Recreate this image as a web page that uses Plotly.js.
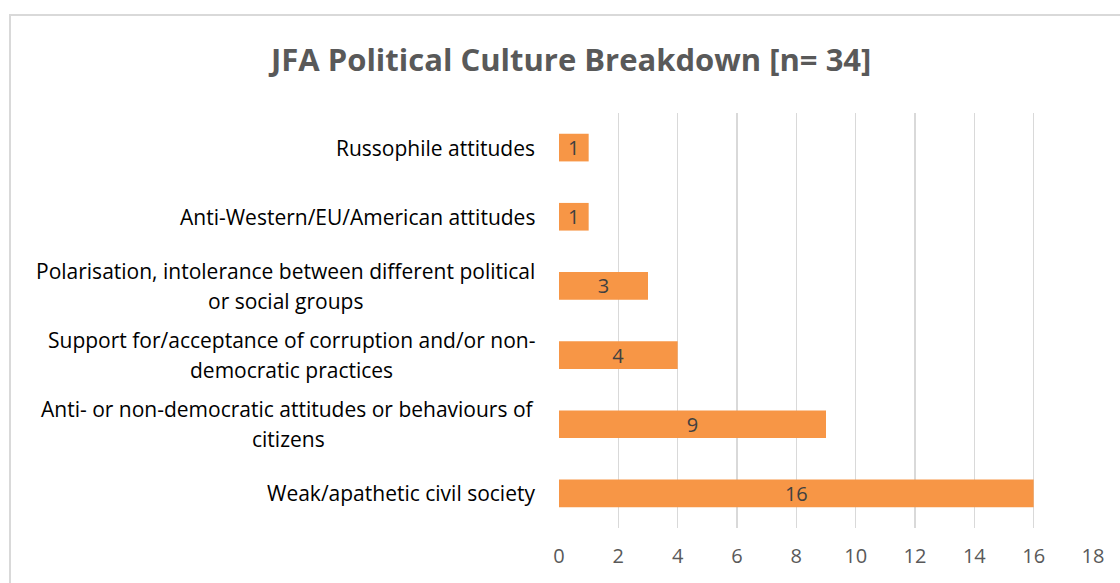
<!DOCTYPE html>
<html>
<head>
<meta charset="utf-8">
<script src="https://cdn.plot.ly/plotly-3.0.1.min.js"></script>
<style>
  html, body { margin:0; padding:0; background:#ffffff; overflow:hidden; }
  #frame { position:absolute; left:9px; top:14px; width:1200px; height:700px; border:2px solid #d9d9d9; box-sizing:border-box; }
  #chart { position:absolute; left:0; top:0; width:1120px; height:583px; }
</style>
</head>
<body>
<div id="frame"></div>
<div id="chart"></div>
<script>
// Categories listed top to bottom; "\n" marks a label line break
const categories = [
  "Russophile attitudes",
  "Anti-Western/EU/American attitudes",
  "Polarisation, intolerance between different political\nor social groups",
  "Support for/acceptance of corruption and/or non-\ndemocratic practices",
  "Anti- or non-democratic attitudes or behaviours of\ncitizens",
  "Weak/apathetic civil society"
];
const counts = [1, 1, 3, 4, 9, 16];
const tickValues = [0, 2, 4, 6, 8, 10, 12, 14, 16, 18];
const chartTitle = "JFA Political Culture Breakdown [n= 34]";

const FONT = "'Open Sans', 'Segoe UI', sans-serif";

const trace = {
  type: 'bar',
  orientation: 'h',
  x: counts,
  y: categories,
  width: 0.4,
  marker: { color: '#F79646', line: { width: 0 } },
  text: counts.map(String),
  textposition: 'inside',
  insidetextanchor: 'middle',
  textangle: 0,
  textfont: { family: FONT, size: 20, color: '#404040' },
  constraintext: 'none',
  hoverinfo: 'skip',
  cliponaxis: false
};

const annotations = [];
categories.forEach(function (cat) {
  const lines = cat.split('\n');
  const n = lines.length;
  lines.forEach(function (line, i) {
    annotations.push({
      xref: 'paper', yref: 'y',
      x: 0, y: cat,
      xanchor: 'right', yanchor: 'middle',
      xshift: -22,
      yshift: (n - 1) * 15 - i * 30,
      text: line,
      showarrow: false,
      align: 'center',
      font: { family: FONT, size: 21, color: '#000000' }
    });
  });
});

const layout = {
  width: 1120,
  height: 583,
  margin: { l: 559, r: 27, t: 113, b: 55, pad: 0 },
  paper_bgcolor: 'rgba(0,0,0,0)',
  plot_bgcolor: 'rgba(0,0,0,0)',
  showlegend: false,
  title: {
    text: '<b>' + chartTitle + '</b>',
    xref: 'container', yref: 'container',
    x: 0.51, y: 1 - 60 / 583,
    xanchor: 'center', yanchor: 'middle',
    font: { family: FONT, size: 31, color: '#595959' }
  },
  xaxis: {
    range: [0, 18],
    tickvals: tickValues,
    ticktext: tickValues.map(String),
    showgrid: true,
    gridcolor: '#d9d9d9',
    gridwidth: 1.5,
    zeroline: false,
    showline: false,
    ticks: '',
    ticklabelstandoff: 14,
    tickfont: { family: FONT, size: 20, color: '#595959' },
    fixedrange: true
  },
  yaxis: {
    type: 'category',
    autorange: 'reversed',
    showticklabels: false,
    showgrid: false,
    zeroline: false,
    showline: false,
    ticks: '',
    fixedrange: true
  },
  annotations: annotations
};

Plotly.newPlot('chart', [trace], layout, { displayModeBar: false, staticPlot: true }).then(function () {
  // Center shorter lines of multi-line labels under the longest line
  const gd = document.getElementById('chart');
  const nodes = gd.querySelectorAll('.annotation');
  const widths = [];
  nodes.forEach(function (nd) { widths.push(nd.getBBox().width); });
  const newAnn = gd.layout.annotations.map(function (a) { return Object.assign({}, a); });
  let idx = 0;
  categories.forEach(function (cat) {
    const lines = cat.split('\n');
    if (lines.length > 1) {
      const w = widths.slice(idx, idx + lines.length);
      const maxW = Math.max.apply(null, w);
      for (let i = 0; i < lines.length; i++) {
        newAnn[idx + i].xshift = -22 - (maxW - w[i]) / 2;
      }
    }
    idx += lines.length;
  });
  return Plotly.relayout(gd, { annotations: newAnn });
});
</script>
</body>
</html>
